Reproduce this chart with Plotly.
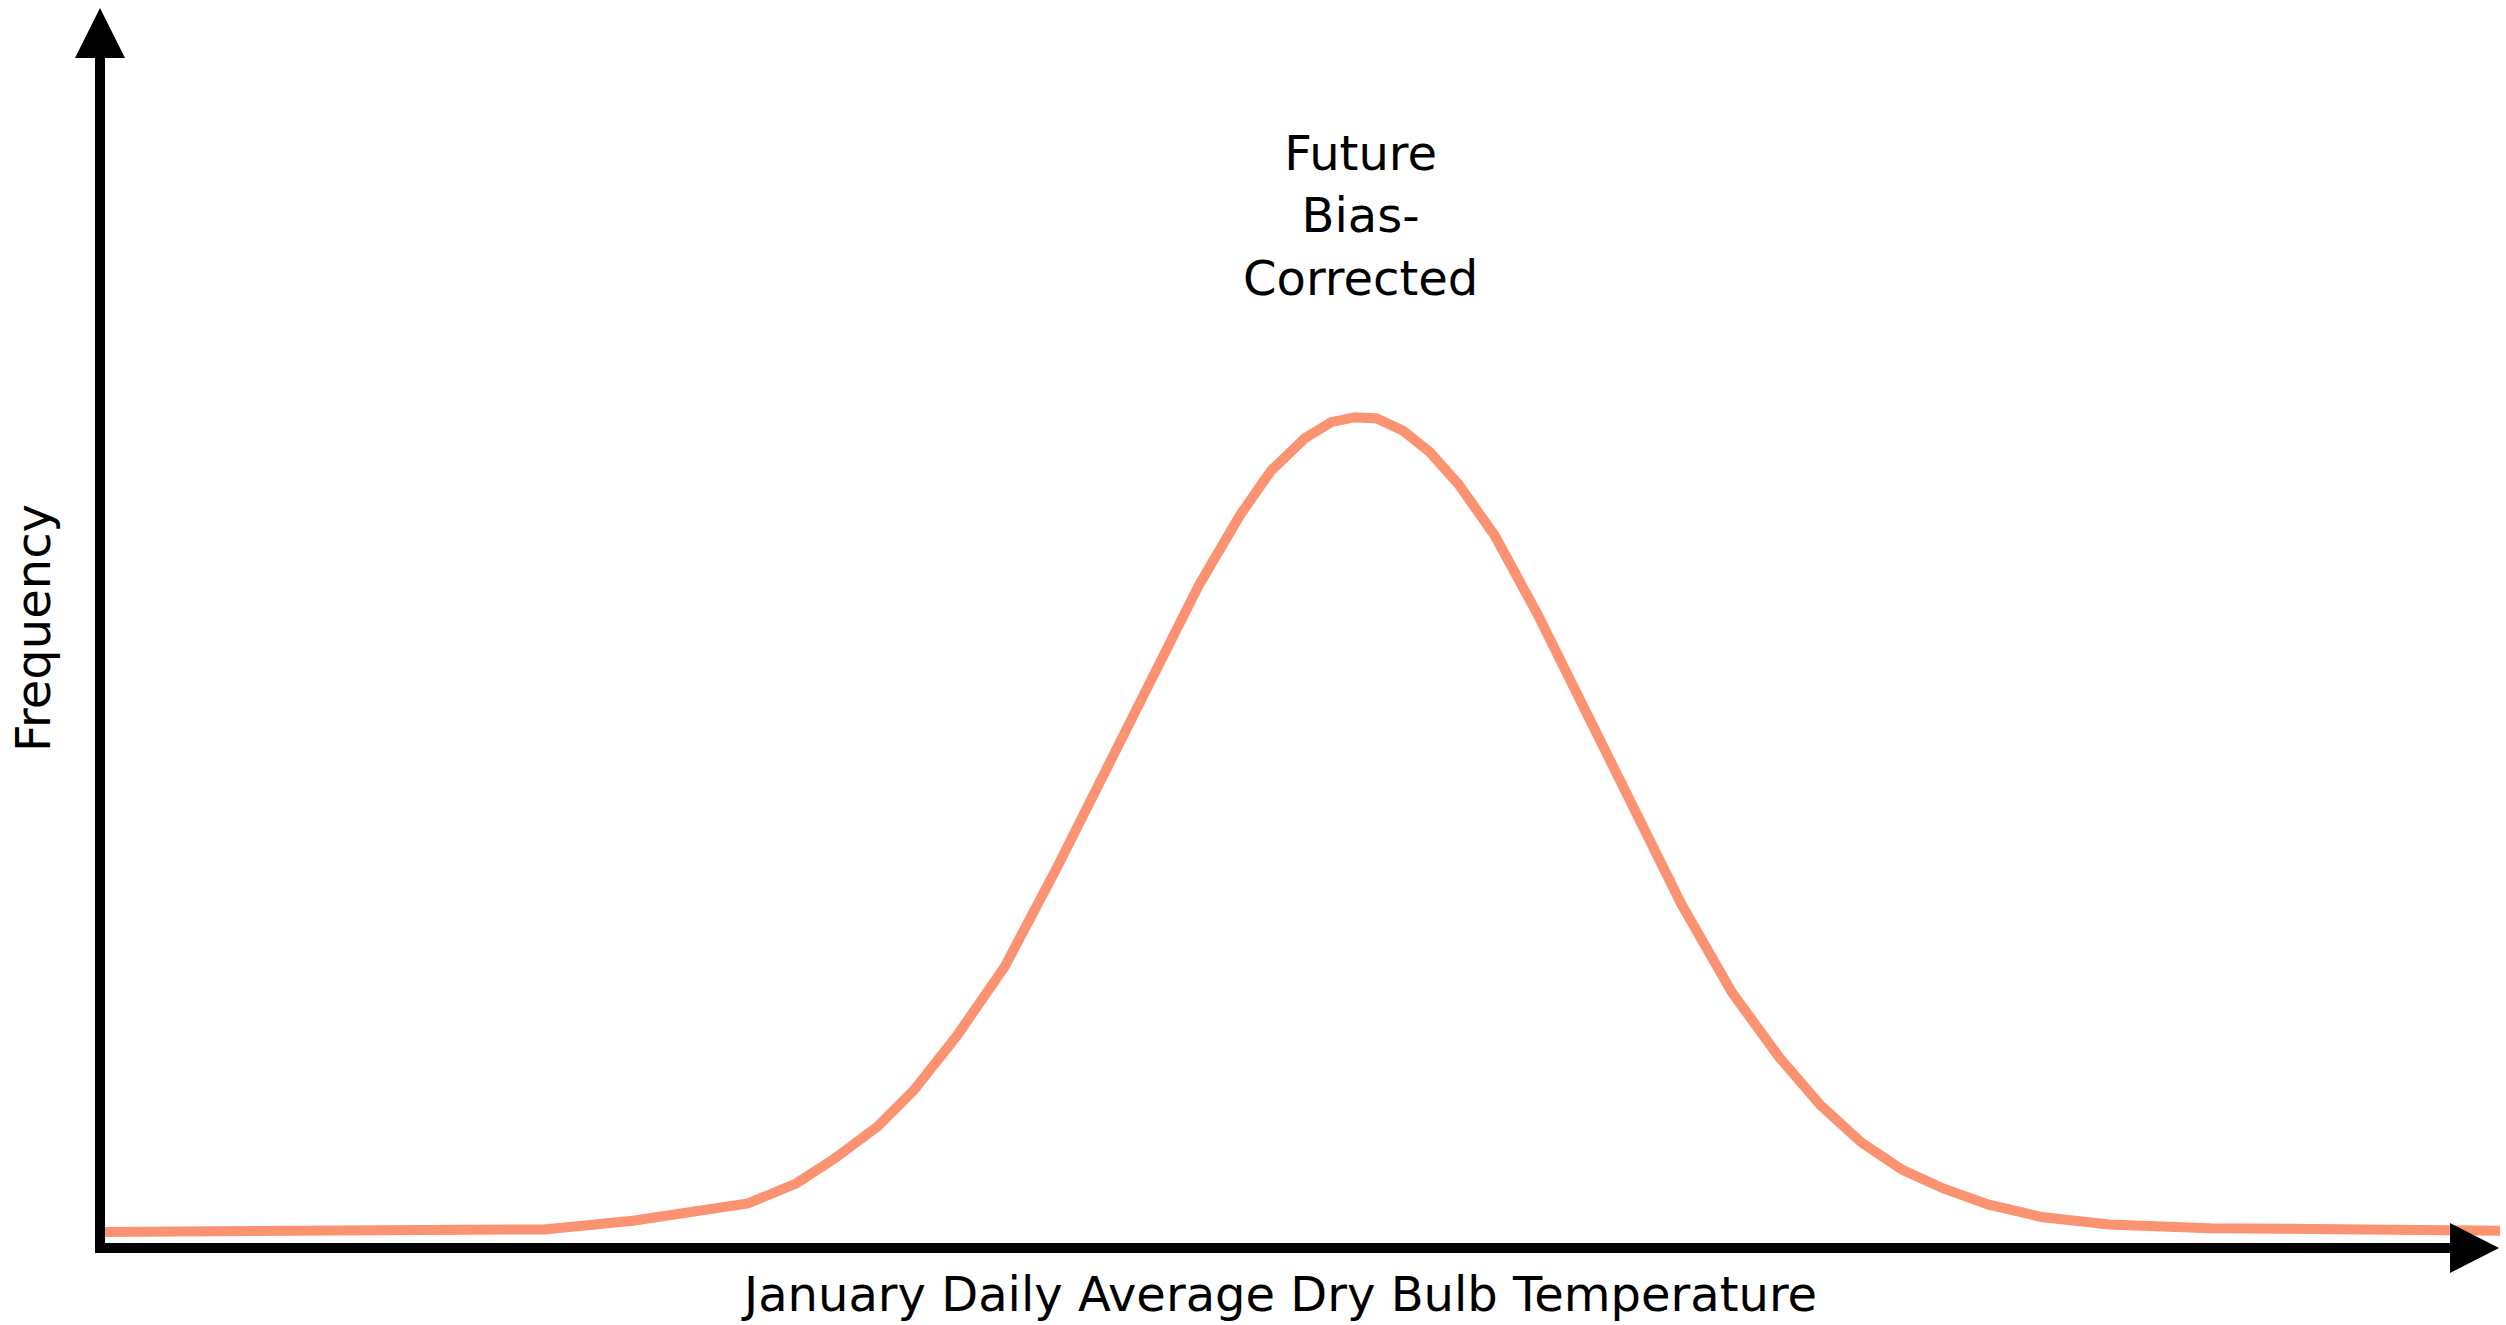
import plotly.graph_objects as go

# Data (arbitrary temperature units / relative frequency)
temperature = [0, 18.5, 22.2, 24.8, 27.0, 29.0, 30.6, 32.4, 33.9, 35.7, 37.7, 39.8,
               41.8, 43.3, 45.8, 47.5, 48.8, 50.2, 51.3, 52.3, 53.2, 54.3, 55.4,
               56.6, 58.1, 59.9, 63.0, 65.9, 68.0, 70.0, 71.7, 73.4, 75.1, 76.8,
               78.7, 80.9, 83.7, 87.9, 100]
frequency = [1.3, 1.5, 2.2, 2.9, 3.6, 5.2, 7.2, 9.8, 12.7, 17.1, 22.7, 30.4,
             38.1, 43.5, 53.5, 59.1, 62.7, 65.3, 66.6, 67.0, 66.9, 65.9, 64.2,
             61.6, 57.5, 51.1, 39.2, 27.7, 20.6, 15.3, 11.5, 8.5, 6.3, 4.8,
             3.5, 2.5, 1.9, 1.6, 1.4]

series_label = "Future<br>Bias-<br>Corrected"
x_title = "January Daily Average Dry Bulb Temperature"
y_title = "Frequency"

W, H = 2506, 1325
ML, MR, MT, MB = 100, 6, 8, 77
PW, PH = W - ML - MR, H - MT - MB


def px(x):
    return (x - ML) / PW


def py(y):
    return (H - MB - y) / PH


FONT = "DejaVu Sans, Verdana, sans-serif"

fig = go.Figure()
fig.add_trace(go.Scatter(
    x=temperature, y=frequency, mode="lines",
    line=dict(color="#FB9373", width=10),
    hoverinfo="skip", showlegend=False,
))

shapes = [
    # y axis bar
    dict(type="rect", xref="paper", yref="paper",
         x0=px(95), x1=px(105), y0=py(1253), y1=py(58),
         fillcolor="black", line=dict(width=0)),
    # x axis bar
    dict(type="rect", xref="paper", yref="paper",
         x0=px(95), x1=px(2452), y0=py(1253), y1=py(1243),
         fillcolor="black", line=dict(width=0)),
    # y arrowhead
    dict(type="path", xref="paper", yref="paper",
         path=f"M {px(100)} {py(8)} L {px(75)} {py(58)} L {px(125)} {py(58)} Z",
         fillcolor="black", line=dict(width=0)),
    # x arrowhead
    dict(type="path", xref="paper", yref="paper",
         path=f"M {px(2499)} {py(1248)} L {px(2450)} {py(1223)} L {px(2450)} {py(1273)} Z",
         fillcolor="black", line=dict(width=0)),
]

annotations = [
    dict(text=series_label, x=px(1360), y=py(216), xref="paper", yref="paper",
         xanchor="center", yanchor="middle", showarrow=False, align="center",
         font=dict(family=FONT, size=48, color="black")),
    dict(text=x_title, x=px(1279), y=py(1294), xref="paper", yref="paper",
         xanchor="center", yanchor="middle", showarrow=False,
         font=dict(family=FONT, size=48, color="black")),
    dict(text=y_title, x=px(33), y=py(628), xref="paper", yref="paper",
         xanchor="center", yanchor="middle", showarrow=False, textangle=-90,
         font=dict(family=FONT, size=48, color="black")),
]

fig.update_layout(
    width=W, height=H,
    margin=dict(l=ML, r=MR, t=MT, b=MB, pad=0),
    paper_bgcolor="white", plot_bgcolor="white",
    xaxis=dict(range=[0, 100], visible=False, fixedrange=True),
    yaxis=dict(range=[0, 100], visible=False, fixedrange=True),
    shapes=shapes, annotations=annotations, showlegend=False,
)

fig.write_html(
    "out.html",
    config={"displayModeBar": False},
    post_script="document.body.style.margin='0px';document.body.style.overflow='hidden';",
)
